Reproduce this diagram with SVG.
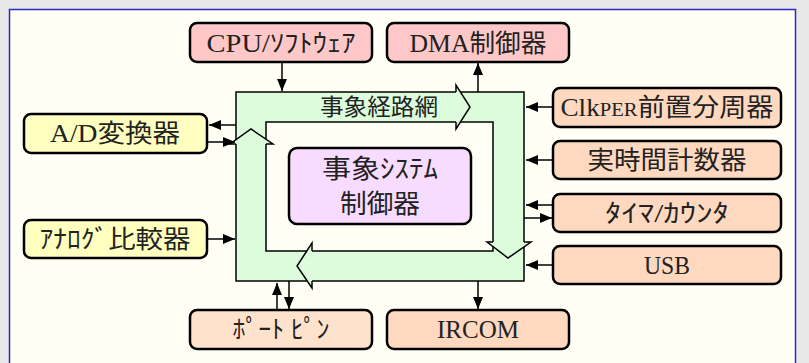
<svg xmlns="http://www.w3.org/2000/svg" width="809" height="363" viewBox="0 0 809 363">
<defs>
<marker id="ah" markerUnits="userSpaceOnUse" markerWidth="12" markerHeight="10" refX="12" refY="5" orient="auto">
<path d="M0,0 L12,5 L0,10 z" fill="#000"/>
</marker>
<style>
.n{stroke:#000;stroke-width:2.5}
.pink{fill:#ffc8c8}
.peach{fill:#ffd8c0}
.peach2{fill:#ffe2cc}
.yel{fill:#ffffc0}
.vio{fill:#f8dcff}
.t{font-family:"Liberation Serif","Noto Sans CJK JP",serif;font-size:25px;fill:#222;text-anchor:middle}
.c{fill:none;stroke:#000;stroke-width:1.5;marker-end:url(#ah)}
.g{fill:#dcfcdc}
.gs{fill:none;stroke:#000;stroke-width:1.5}
</style>
</defs>
<rect x="0" y="0" width="809" height="363" fill="#e8e8e8"/>
<rect x="9.5" y="9.5" width="786" height="400" fill="#fffff5" stroke="#2828d0" stroke-width="1.5"/>

<g id="network">
<rect x="236" y="92" width="288" height="189" class="g" stroke="#000" stroke-width="1.5"/>
<rect x="266" y="122" width="227" height="129" fill="#fffff5" stroke="#000" stroke-width="1.5"/>
<polygon class="g" points="456,85 470,107 456,129"/>
<polyline class="gs" points="456,92 456,85 470,107 456,129 456,122"/>
<polygon class="g" points="487,242 508,258 531,242"/>
<polyline class="gs" points="493,242 487,242 508,258 531,242 524,242"/>
<polygon class="g" points="312,243 297,266 312,288"/>
<polyline class="gs" points="312,251 312,243 297,266 312,288 312,281"/>
<polygon class="g" points="230,144 251,129 273,144"/>
<polyline class="gs" points="236,144 230,144 251,129 273,144 266,144"/>
<text class="t" x="379" y="115" style="font-size:23px" textLength="118" lengthAdjust="spacingAndGlyphs">事象経路網</text>
</g>

<g id="controller">
<rect x="289" y="148" width="182" height="76" rx="8" class="n vio"/>
<text class="t" x="380" y="178" style="font-size:26px" textLength="116" lengthAdjust="spacingAndGlyphs">事象ｼｽﾃﾑ</text>
<text class="t" x="380" y="213" style="font-size:26px" textLength="80" lengthAdjust="spacingAndGlyphs">制御器</text>
</g>

<g id="cpu">
<rect x="190" y="23" width="182" height="39" rx="7" class="n pink"/>
<text class="t" x="281" y="52" textLength="149" lengthAdjust="spacingAndGlyphs">CPU/ｿﾌﾄｳｪｱ</text>
</g>
<g id="dma">
<rect x="387" y="23" width="182" height="39" rx="7" class="n pink"/>
<text class="t" x="478" y="52" textLength="137" lengthAdjust="spacingAndGlyphs">DMA制御器</text>
</g>
<g id="clkper">
<rect x="553" y="88" width="228" height="39" rx="7" class="n peach"/>
<text class="t" x="667" y="116" textLength="213" lengthAdjust="spacingAndGlyphs">Clk<tspan style="font-size:19px">PER</tspan>前置分周器</text>
</g>
<g id="rtc">
<rect x="553" y="141" width="228" height="38" rx="7" class="n peach"/>
<text class="t" x="667" y="169" textLength="159" lengthAdjust="spacingAndGlyphs">実時間計数器</text>
</g>
<g id="timer">
<rect x="553" y="194" width="228" height="38" rx="7" class="n peach"/>
<text class="t" x="667" y="222" textLength="124" lengthAdjust="spacingAndGlyphs">ﾀｲﾏ/ｶｳﾝﾀ</text>
</g>
<g id="usb">
<rect x="553" y="246" width="228" height="38" rx="7" class="n peach"/>
<text class="t" x="667" y="274" textLength="46" lengthAdjust="spacingAndGlyphs">USB</text>
</g>
<g id="ircom">
<rect x="387" y="310" width="182" height="39" rx="7" class="n peach"/>
<text class="t" x="478" y="338" textLength="82" lengthAdjust="spacingAndGlyphs">IRCOM</text>
</g>
<g id="portpin">
<rect x="190" y="310" width="182" height="39" rx="7" class="n peach2"/>
<text class="t" x="281" y="338" textLength="97" lengthAdjust="spacingAndGlyphs">ﾎﾟｰﾄ ﾋﾟﾝ</text>
</g>
<g id="adc">
<rect x="24" y="114" width="183" height="39" rx="7" class="n yel"/>
<text class="t" x="115" y="142" textLength="130" lengthAdjust="spacingAndGlyphs">A/D変換器</text>
</g>
<g id="ac">
<rect x="24" y="220" width="183" height="38" rx="7" class="n yel"/>
<text class="t" x="115" y="248" textLength="151" lengthAdjust="spacingAndGlyphs">ｱﾅﾛｸﾞ比較器</text>
</g>

<g id="connectors">
<line class="c" x1="282" y1="62" x2="282" y2="91"/>
<line class="c" x1="478" y1="92" x2="478" y2="63"/>
<line class="c" x1="553" y1="107" x2="526" y2="107"/>
<line class="c" x1="553" y1="160" x2="526" y2="160"/>
<line class="c" x1="553" y1="205" x2="526" y2="205"/>
<line class="c" x1="524" y1="218" x2="552" y2="218"/>
<line class="c" x1="553" y1="265" x2="526" y2="265"/>
<line class="c" x1="478" y1="281" x2="478" y2="309"/>
<line class="c" x1="277" y1="310" x2="277" y2="283"/>
<line class="c" x1="289" y1="281" x2="289" y2="309"/>
<line class="c" x1="236" y1="125" x2="209" y2="125"/>
<line class="c" x1="207" y1="142" x2="235" y2="142"/>
<line class="c" x1="207" y1="239" x2="235" y2="239"/>
</g>
</svg>
